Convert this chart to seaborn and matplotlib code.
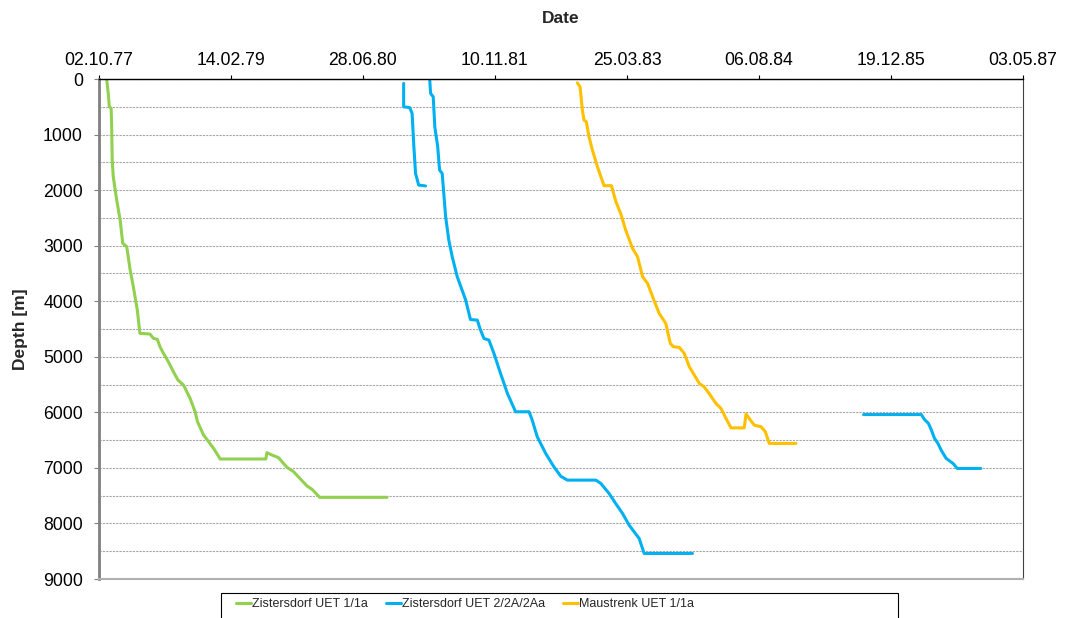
import matplotlib
matplotlib.use("Agg")
import matplotlib.pyplot as plt
import matplotlib.dates as mdates
import matplotlib.ticker as mticker
from matplotlib.patches import Rectangle
from matplotlib import font_manager
import seaborn as sns
import pandas as pd

# ---------------- data (days after 02.10.1977, depth in m) ----------------
base_date = "1977-10-02"
tick_labels_days = [0, 500, 1000, 1500, 2000, 2500, 3000, 3500]

series_names = ["Zistersdorf UET 1/1a", "Zistersdorf UET 2/2A/2Aa", "Maustrenk UET 1/1a"]
series_colors = ["#92D050", "#00B0F0", "#FFC000"]

green_days = [29, 35, 39, 46, 48, 50, 54, 67, 80, 90, 105, 118, 130, 145, 155, 193, 206, 221, 231, 242,
              259, 269, 285, 299, 320, 345, 364, 373, 396, 415, 434, 459, 632, 636, 655, 680, 693, 712,
              737, 763, 788, 807, 836, 1091]
green_depth = [0, 258, 498, 528, 858, 1458, 1758, 2178, 2538, 2958, 3018, 3438, 3738, 4158, 4578, 4590,
               4668, 4686, 4818, 4920, 5058, 5148, 5298, 5418, 5508, 5748, 5988, 6168, 6408, 6528, 6648,
               6840, 6840, 6726, 6768, 6816, 6888, 6990, 7068, 7200, 7326, 7386, 7530, 7530]

blue_a_days = [1154, 1154, 1177, 1186, 1192, 1199, 1211, 1237]
blue_a_depth = [80, 500, 515, 620, 1160, 1700, 1910, 1925]

blue_b_days = [1253, 1256, 1266, 1272, 1283, 1290, 1300, 1306, 1313, 1325, 1338, 1357, 1389, 1407, 1433,
               1443, 1458, 1477, 1496, 1521, 1547, 1578, 1629, 1641, 1660, 1692, 1723, 1749, 1774, 1882,
               1901, 1932, 1957, 1983, 2008, 2027, 2046, 2065, 2248]
blue_b_depth = [30, 260, 320, 860, 1220, 1640, 1700, 2060, 2480, 2900, 3200, 3560, 3980, 4330, 4340,
                4490, 4670, 4700, 4940, 5300, 5660, 5990, 5990, 6140, 6440, 6740, 6980, 7150, 7220, 7220,
                7280, 7460, 7640, 7820, 8030, 8150, 8270, 8540, 8540]

blue_c_days = [2896, 3115, 3127, 3142, 3153, 3165, 3178, 3190, 3209, 3235, 3251, 3340]
blue_c_depth = [6040, 6040, 6130, 6200, 6320, 6470, 6560, 6680, 6830, 6920, 7010, 7010]

yellow_days = [1812, 1822, 1831, 1837, 1846, 1856, 1869, 1888, 1913, 1941, 1958, 1976, 1995, 2021, 2040,
               2059, 2078, 2097, 2122, 2147, 2164, 2176, 2198, 2217, 2236, 2255, 2274, 2292, 2311, 2337,
               2356, 2375, 2394, 2444, 2451, 2463, 2482, 2508, 2524, 2539, 2640]
yellow_depth = [70, 140, 560, 740, 770, 1040, 1280, 1580, 1920, 1920, 2210, 2420, 2720, 3050, 3200,
                3560, 3680, 3920, 4220, 4400, 4760, 4820, 4830, 4940, 5180, 5330, 5480, 5540, 5660, 5840,
                5930, 6110, 6280, 6280, 6030, 6110, 6230, 6260, 6350, 6560, 6560]

# ---------------- build long table ----------------
segments = [
    (series_names[0], "g", green_days, green_depth),
    (series_names[1], "b1", blue_a_days, blue_a_depth),
    (series_names[1], "b2", blue_b_days, blue_b_depth),
    (series_names[1], "b3", blue_c_days, blue_c_depth),
    (series_names[2], "y", yellow_days, yellow_depth),
]
t0 = pd.Timestamp(base_date)
rows = []
for name, seg, days, depth in segments:
    for d, z in zip(days, depth):
        rows.append({"series": name, "segment": seg, "date": t0 + pd.Timedelta(days=d), "depth": z})
df = pd.DataFrame(rows)

# ---------------- style ----------------
sns.set_theme(style="white")
plt.rcParams["font.family"] = ["Liberation Sans", "DejaVu Sans"]

W, H = 1066, 618
fig = plt.figure(figsize=(W / 100, H / 100), dpi=100)
ax = fig.add_axes([99 / W, 1 - 579 / H, (1023 - 99) / W, 500 / H])

sns.lineplot(data=df, x="date", y="depth", hue="series", units="segment", estimator=None,
             sort=False, hue_order=series_names, palette=series_colors, linewidth=2.2, ax=ax)

handles, labels = ax.get_legend_handles_labels()
if ax.get_legend() is not None:
    ax.get_legend().remove()

ax.set_ylim(9000, 0)
ax.set_xlim(t0, t0 + pd.Timedelta(days=3500))

tick_dates = [t0 + pd.Timedelta(days=d) for d in tick_labels_days]
ax.xaxis.set_major_locator(mticker.FixedLocator(mdates.date2num(tick_dates)))
ax.xaxis.set_major_formatter(mdates.DateFormatter("%d.%m.%y"))
ax.xaxis.tick_top()
ax.xaxis.set_label_position("top")
ax.tick_params(axis="x", which="major", top=True, bottom=False, direction="out", length=3,
               width=0.8, color="black", labelsize=12.7, pad=4, labelcolor="black")

ax.yaxis.set_major_locator(mticker.MultipleLocator(1000))
ax.yaxis.set_minor_locator(mticker.MultipleLocator(500))
ax.tick_params(axis="y", which="major", left=True, direction="out", length=3.6, width=0.8,
               color="#808080", labelsize=12.7, pad=8, labelcolor="black")
ax.tick_params(axis="y", which="minor", left=False)

ax.set_axisbelow(True)
ax.grid(False)
ax.yaxis.grid(True, which="both", linestyle=(0, (2, 1)), color="#a6a6a6", linewidth=0.8)

ax.set_xlabel("Date", fontsize=12.5, fontweight="bold", labelpad=21)
ax.set_ylabel("Depth [m]", fontsize=12.5, fontweight="bold", labelpad=11)

for s in ax.spines.values():
    s.set_visible(True)
ax.spines["top"].set_color("black")
ax.spines["top"].set_linewidth(1.0)
ax.spines["left"].set_color("#808080")
ax.spines["left"].set_linewidth(2.0)
ax.spines["bottom"].set_color("#b0b0b0")
ax.spines["bottom"].set_linewidth(1.5)
ax.spines["right"].set_color("#404040")
ax.spines["right"].set_linewidth(0.8)

# ---------------- legend ----------------
try:
    font_manager.findfont("Liberation Sans Narrow", fallback_to_default=False)
    leg_family = ["Liberation Sans Narrow", "Liberation Sans"]
    leg_size = 10.5
except Exception:
    leg_family = ["Liberation Sans"]
    leg_size = 9

fig.legend(handles, labels, loc="center", bbox_to_anchor=(465 / W, 1 - 604 / H), ncol=3,
           frameon=False, handlelength=1.2, handletextpad=0.1, columnspacing=1.4,
           prop={"family": leg_family, "size": leg_size})
fig.patches.append(Rectangle((221 / W, -0.05), (898 - 221) / W, 0.05 + (H - 593) / H,
                             transform=fig.transFigure, fill=False, edgecolor="black",
                             linewidth=0.8))

fig.savefig("out.png", dpi=100)
